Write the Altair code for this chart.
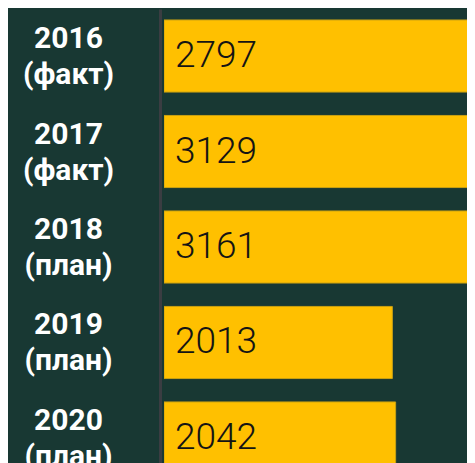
import altair as alt
import pandas as pd

years = ["2016", "2017", "2018", "2019", "2020"]
kinds = ["(факт)", "(факт)", "(план)", "(план)", "(план)"]
values = [2797, 3129, 3161, 2013, 2042]

df = pd.DataFrame({
    "cat": [f"{y}|{k}" for y, k in zip(years, kinds)],
    "value": values,
})

y_scale = alt.Scale(paddingInner=0.245, paddingOuter=0.115, range=[0, 476])
x_scale = alt.Scale(domain=[0, 3200], nice=False, zero=True, range=[0, 363])

y_axis = alt.Axis(
    labelExpr="split(datum.label, '|')",
    labelAlign="center",
    labelBaseline="middle",
    labelPadding=92,
    labelOffset=-17,
    labelFont="Roboto",
    labelFontWeight="bold",
    labelFontSize=30,
    labelLineHeight=36,
    labelColor="#ffffff",
    labelOverlap=False,
    labelLimit=300,
    ticks=False,
    tickSize=0,
    domainColor="#3a3d42",
    domainWidth=3,
    offset=4,
    grid=False,
    title=None,
)

bars = alt.Chart(df).mark_bar(
    color="#FFC000", stroke="#C9A012", strokeWidth=1, clip=True
).encode(
    x=alt.X("value:Q", scale=x_scale, axis=None),
    y=alt.Y("cat:N", sort=None, scale=y_scale, axis=y_axis),
)

labels = alt.Chart(df).mark_text(
    align="left", baseline="middle", dx=11, clip=True,
    font="Roboto", fontWeight=300, fontSize=37, color="#141414",
).encode(
    x=alt.datum(0),
    y=alt.Y("cat:N", sort=None),
    text=alt.Text("value:Q", format="d"),
)

chart = (bars + labels).properties(
    width=303,
    height=454,
    background="#183833",
    padding={"left": 156, "top": 1, "right": 0, "bottom": 0},
    autosize=alt.AutoSizeParams(type="none"),
).configure_view(stroke=None)

chart.save("out.html", embed_options={"renderer": "svg", "actions": False})
